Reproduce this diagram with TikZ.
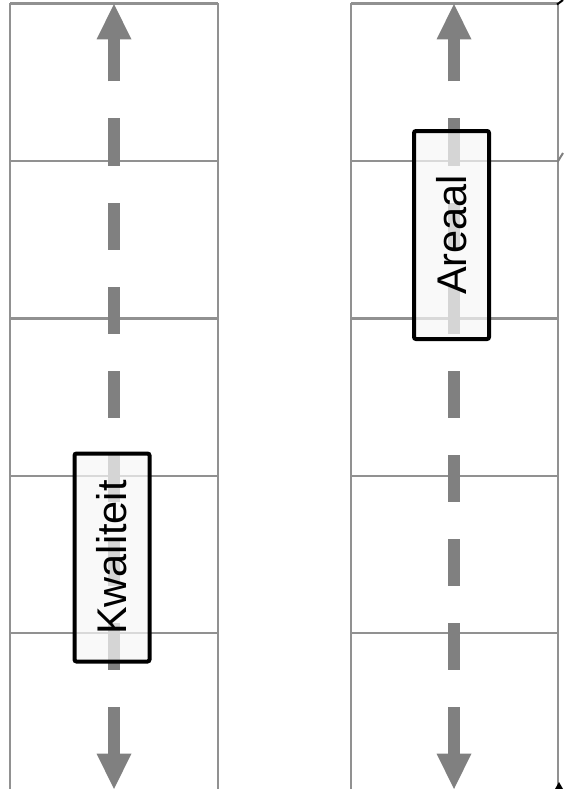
\documentclass[tikz,border=0pt]{standalone}
\usepackage{fontspec}
\setmainfont{Liberation Sans}
\definecolor{gridgray}{RGB}{145,145,145}
\definecolor{arrowgray}{RGB}{128,128,128}
\definecolor{boxfill}{RGB}{246,246,246}
\begin{document}
\begin{tikzpicture}[x=1pt,y=-1pt,
  gridline/.style={draw=gridgray, line width=2.2pt},
  shaft/.style={draw=arrowgray, line width=12pt, dash pattern=on 47pt off 37pt},
  head/.style={fill=arrowgray, draw=none},
  labelbox/.style={draw=black, line width=4pt, rounded corners=2pt, fill=boxfill,
    fill opacity=0.72, text opacity=1, minimum width=208pt, minimum height=75pt,
    inner sep=0pt, rotate=90, font=\fontsize{41.5}{41.5}\selectfont},
  edgefrag/.style={draw=black, line width=2pt}
]
\useasboundingbox (0,0) rectangle (564,789);
% grid columns
\foreach \xl/\xr in {10/218, 351/558}{
  \draw[gridline] (\xl,3.5) -- (\xl,795);
  \draw[gridline] (\xr,3.5) -- (\xr,795);
  \foreach \yy in {3.5,161,318.5,476,633}{
    \draw[gridline] (\xl,\yy) -- (\xr,\yy);
  }
}
% arrow coordinates
\coordinate (LT) at (114,39.5);
\coordinate (LB) at (114,753.5);
\coordinate (RT) at (454,39.5);
\coordinate (RB) at (454,753.5);
% shafts, dashed from the bottom arrowhead up
\draw[shaft] (LB) -- (LT);
\draw[shaft] (RB) -- (RT);
% arrowheads
\fill[head] (96.5,39.5) -- (114,4) -- (131.5,39.5) -- cycle;
\fill[head] (96.5,753.5) -- (114,789) -- (131.5,753.5) -- cycle;
\fill[head] (436.5,39.5) -- (454,4) -- (471.5,39.5) -- cycle;
\fill[head] (436.5,753.5) -- (454,789) -- (471.5,753.5) -- cycle;
% labels
\node[labelbox] (kwal) at (112,557.5) {Kwaliteit};
\node[labelbox] (areaal) at (451.5,235) {Areaal};
% small black fragments at right edge
\draw[edgefrag] (557,4.5) -- (563,0);
\draw[edgefrag, draw=gray] (557.5,162) -- (563,153);
\fill[black] (555,789) -- (559,782) -- (563,789) -- cycle;
\end{tikzpicture}
\end{document}
